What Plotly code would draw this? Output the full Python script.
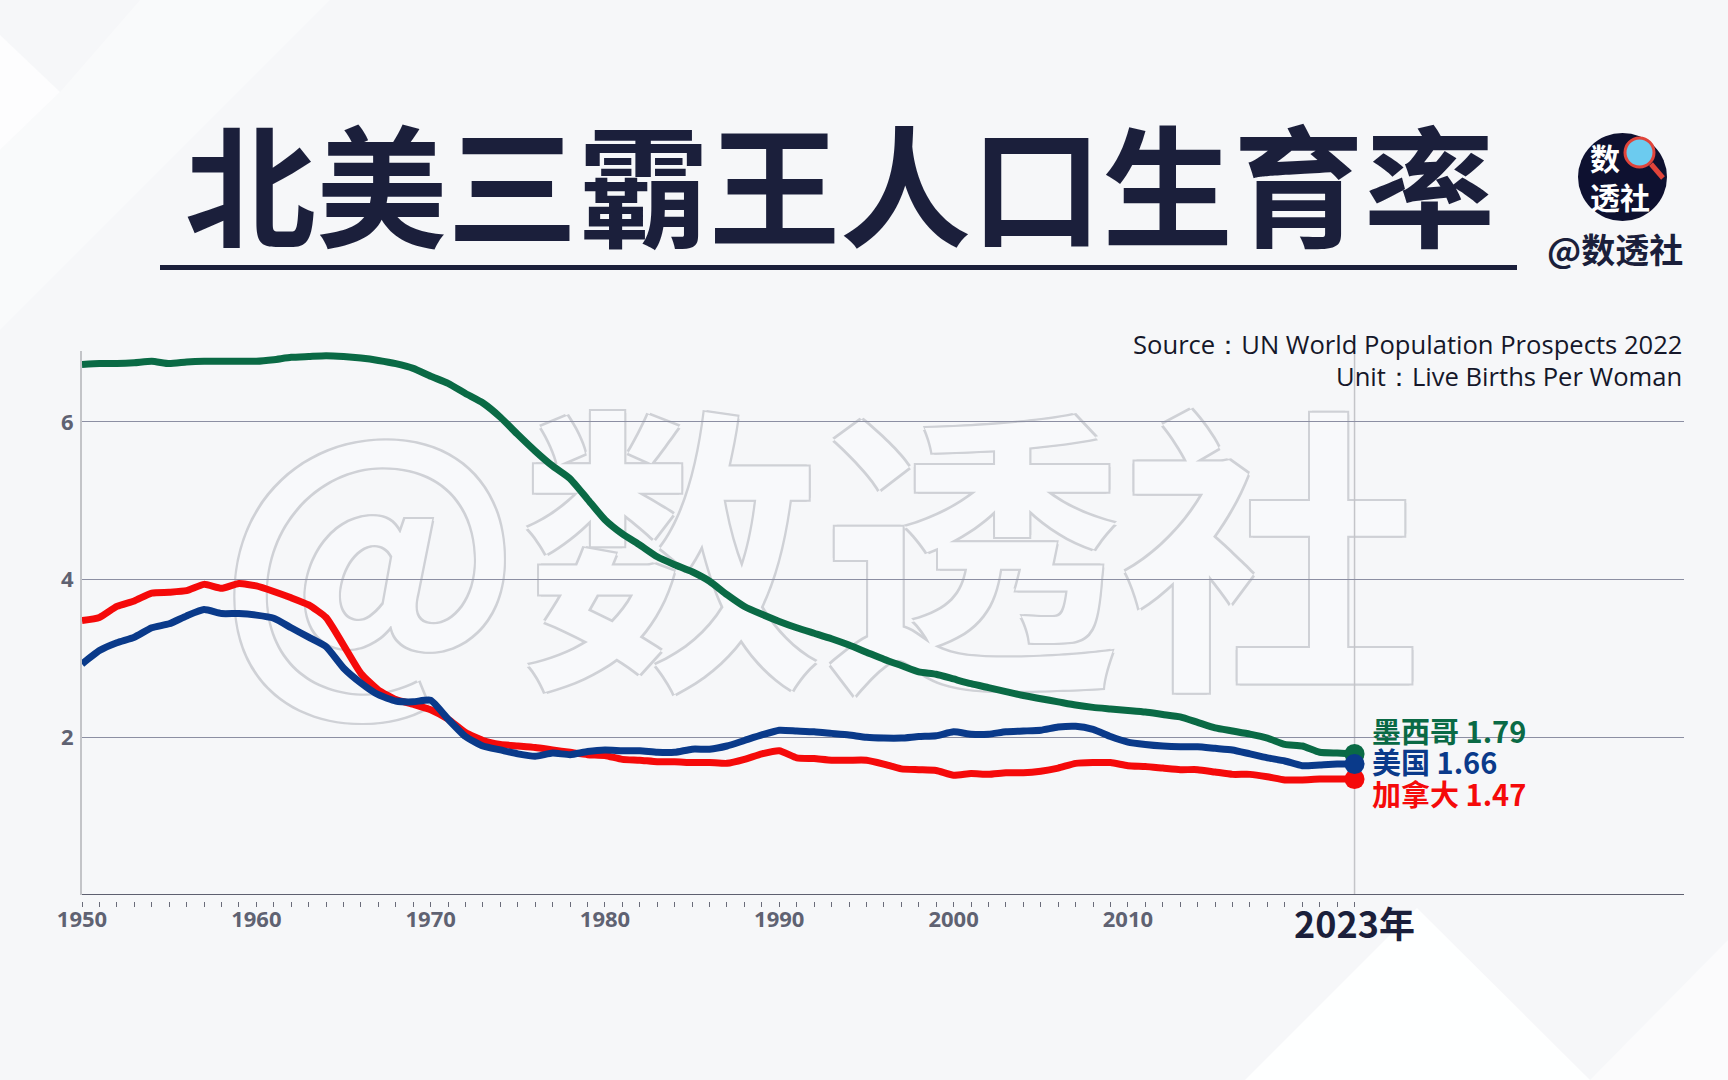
import plotly.graph_objects as go

years = list(range(1950, 2024))

mexico = [6.73, 6.74, 6.74, 6.75, 6.77, 6.74, 6.76, 6.77, 6.77, 6.77,
          6.77, 6.79, 6.82, 6.83, 6.84, 6.83, 6.81, 6.78, 6.74, 6.68,
          6.58, 6.49, 6.36, 6.24, 6.06, 5.84, 5.63, 5.44, 5.28, 5.02,
          4.76, 4.58, 4.44, 4.29, 4.19, 4.10, 3.98, 3.81, 3.66, 3.56,
          3.47, 3.39, 3.32, 3.25, 3.17, 3.08, 2.99, 2.91, 2.83, 2.80,
          2.74, 2.68, 2.63, 2.58, 2.53, 2.49, 2.45, 2.41, 2.38, 2.36,
          2.34, 2.32, 2.29, 2.26, 2.19, 2.12, 2.08, 2.04, 1.99, 1.91,
          1.89, 1.81, 1.80, 1.79]

usa = [2.93, 3.10, 3.20, 3.27, 3.39, 3.44, 3.54, 3.62, 3.57, 3.57,
       3.55, 3.51, 3.39, 3.27, 3.15, 2.88, 2.69, 2.54, 2.46, 2.45,
       2.47, 2.23, 2.01, 1.89, 1.84, 1.79, 1.76, 1.80, 1.78, 1.82,
       1.84, 1.83, 1.83, 1.81, 1.81, 1.85, 1.85, 1.89, 1.96, 2.03,
       2.09, 2.08, 2.07, 2.05, 2.03, 2.00, 1.99, 1.99, 2.01, 2.02,
       2.07, 2.04, 2.04, 2.07, 2.08, 2.09, 2.13, 2.14, 2.10, 2.01,
       1.94, 1.91, 1.89, 1.88, 1.88, 1.86, 1.84, 1.79, 1.74, 1.70,
       1.64, 1.65, 1.66, 1.66]

canada = [3.48, 3.52, 3.66, 3.73, 3.83, 3.84, 3.86, 3.94, 3.89, 3.95,
          3.92, 3.85, 3.77, 3.68, 3.52, 3.17, 2.81, 2.60, 2.48, 2.42,
          2.35, 2.23, 2.06, 1.96, 1.91, 1.89, 1.87, 1.84, 1.81, 1.78,
          1.77, 1.72, 1.71, 1.69, 1.69, 1.68, 1.68, 1.67, 1.72, 1.79,
          1.83, 1.74, 1.73, 1.71, 1.71, 1.71, 1.66, 1.60, 1.59, 1.58,
          1.52, 1.54, 1.53, 1.55, 1.55, 1.57, 1.61, 1.67, 1.68, 1.68,
          1.64, 1.63, 1.61, 1.59, 1.59, 1.56, 1.53, 1.53, 1.50, 1.46,
          1.46, 1.47, 1.47, 1.47]

series_names = ["墨西哥", "美国", "加拿大"]
series_values = [mexico, usa, canada]
series_colors = ["#0a6a45", "#0a3a8a", "#f50a0a"]
label_shift = [24, 3, -14]

y_tickvals = [2, 4, 6]
x_label_years = [1950, 1960, 1970, 1980, 1990, 2000, 2010]
title_text = "北美三霸王人口生育率"
source_text = "Source：UN World Population Prospects 2022"
unit_text = "Unit：Live Births Per Woman"
handle_text = "@数透社"
logo_text = "数<br>透社"
last_year_label = "2023年"

W, H = 1728, 1080
L, R, T, B = 82, 1684, 351, 901
AX_BOTTOM = 895


def px(x):
    return (x - L) / (R - L)


def py(y):
    return (B - y) / (B - T)


CJK = "Noto Sans CJK SC"
NAVY = "#1b1f3b"

fig = go.Figure()

order = [0, 2, 1]
for i in order:
    fig.add_trace(go.Scatter(
        x=years, y=series_values[i], mode="lines",
        line=dict(color=series_colors[i], width=7, shape="spline", smoothing=0.5),
        hoverinfo="skip", showlegend=False))
for i in order:
    fig.add_trace(go.Scatter(
        x=[years[-1]], y=[series_values[i][-1]], mode="markers",
        marker=dict(color=series_colors[i], size=20),
        cliponaxis=False, hoverinfo="skip", showlegend=False))

tick_text = [str(y) if y in x_label_years else "" for y in years]

fig.update_layout(
    width=W, height=H,
    margin=dict(l=L, r=W - R, t=T, b=H - B, pad=0),
    paper_bgcolor="#f6f7f9",
    plot_bgcolor="rgba(0,0,0,0)",
    showlegend=False,
    xaxis=dict(
        range=[1950, 2041.9], anchor="free", position=0,
        showgrid=False, zeroline=False, showline=False,
        tickmode="array", tickvals=years, ticktext=tick_text,
        ticks="outside", ticklen=5, tickwidth=1, tickcolor="#6a6c7a",
        ticklabelstandoff=-6,
        tickfont=dict(family="Open Sans", size=22, color="#5f6272", weight="bold"),
    ),
    yaxis=dict(
        range=[0, 6.9], domain=[(B - AX_BOTTOM) / (B - T), 1],
        tickmode="array", tickvals=y_tickvals,
        showgrid=True, gridcolor="#8c8fa3", gridwidth=1,
        zeroline=False, showline=True, linecolor="#c3c4c8", linewidth=2,
        ticks="", ticklabelstandoff=2,
        tickfont=dict(family="Open Sans", size=22, color="#5f6272", weight="bold"),
    ),
)

outline = "#cfd1d6"
shapes = []
# background decorations
shapes.append(dict(type="path", xref="paper", yref="paper", layer="below",
                   path=f"M {px(0)},{py(35)} L {px(60)},{py(92)} L {px(0)},{py(150)} Z",
                   fillcolor="rgba(255,255,255,0.75)", line=dict(width=0)))
shapes.append(dict(type="path", xref="paper", yref="paper", layer="below",
                   path=f"M {px(140)},{py(0)} L {px(330)},{py(0)} L {px(0)},{py(330)} L {px(0)},{py(150)} L {px(60)},{py(92)} Z",
                   fillcolor="rgba(255,255,255,0.35)", line=dict(width=0)))
shapes.append(dict(type="path", xref="paper", yref="paper", layer="below",
                   path=f"M {px(1417)},{py(908)} L {px(1590)},{py(1080)} L {px(1245)},{py(1080)} Z",
                   fillcolor="rgba(255,255,255,0.9)", line=dict(width=0)))
shapes.append(dict(type="path", xref="paper", yref="paper", layer="below",
                   path=f"M {px(1590)},{py(1080)} L {px(1728)},{py(940)} L {px(1728)},{py(1080)} Z",
                   fillcolor="rgba(255,255,255,0.5)", line=dict(width=0)))
# watermark (outlined text beneath the lines)
shapes.append(dict(type="rect", xref="paper", yref="paper", layer="below",
                   x0=px(220), x1=px(1420), y0=py(728), y1=py(438),
                   fillcolor="rgba(0,0,0,0)", line=dict(width=0),
                   label=dict(text=handle_text, textposition="middle center",
                              font=dict(family=CJK, size=300, color="#f8f9fb", weight="bold",
                                        shadow=f"2px 2px 0 {outline}, -2px -2px 0 {outline}, 2px -2px 0 {outline}, -2px 2px 0 {outline}"))))
# title underline
shapes.append(dict(type="line", xref="paper", yref="paper",
                   x0=px(160), x1=px(1517), y0=py(267.5), y1=py(267.5),
                   line=dict(color=NAVY, width=5)))
# bottom axis line
shapes.append(dict(type="line", xref="paper", yref="y", x0=0, x1=1, y0=0, y1=0,
                   line=dict(color="#5e6070", width=2)))
# 2023 reference line
shapes.append(dict(type="line", xref="x", yref="paper", x0=years[-1], x1=years[-1],
                   y0=py(AX_BOTTOM), y1=1, layer="below",
                   line=dict(color="#c4c5c9", width=1.5)))
# logo
shapes.append(dict(type="circle", xref="paper", yref="paper",
                   x0=px(1578), x1=px(1667), y0=py(133), y1=py(221),
                   fillcolor="#0e1130", line=dict(width=0)))
shapes.append(dict(type="line", xref="paper", yref="paper",
                   x0=px(1651), x1=px(1663), y0=py(164), y1=py(178),
                   line=dict(color="#e0443a", width=5)))
shapes.append(dict(type="circle", xref="paper", yref="paper",
                   x0=px(1625), x1=px(1654), y0=py(138), y1=py(167),
                   fillcolor="#6ccbef", line=dict(color="#e0443a", width=3)))
fig.update_layout(shapes=shapes)

ann = []
ann.append(dict(text=title_text, xref="paper", yref="paper", x=px(840), y=py(180),
                xanchor="center", yanchor="middle", showarrow=False,
                font=dict(family=CJK, size=131, color=NAVY, weight="bold")))
ann.append(dict(text=source_text, xref="paper", yref="paper", x=1, y=py(345),
                xanchor="right", yanchor="middle", showarrow=False,
                font=dict(family="Open Sans", size=25.6, color="#15172a")))
ann.append(dict(text=unit_text, xref="paper", yref="paper", x=1, y=py(376),
                xanchor="right", yanchor="middle", showarrow=False,
                font=dict(family="Open Sans", size=25.6, color="#15172a")))
ann.append(dict(text=handle_text, xref="paper", yref="paper", x=px(1615), y=py(248),
                xanchor="center", yanchor="middle", showarrow=False,
                font=dict(family=CJK, size=34, color=NAVY, weight="bold")))
ann.append(dict(text=logo_text, xref="paper", yref="paper", x=px(1588), y=py(176),
                xanchor="left", yanchor="middle", align="left", showarrow=False,
                font=dict(family=CJK, size=30, color="white", weight="bold")))
ann.append(dict(text=last_year_label, xref="x", yref="paper", x=years[-1], y=py(922),
                xanchor="center", yanchor="middle", showarrow=False,
                font=dict(family=CJK, size=36, color=NAVY, weight="bold")))
for i in range(3):
    ann.append(dict(text=f"{series_names[i]} {series_values[i][-1]:.2f}",
                    xref="x", yref="y", x=years[-1], y=series_values[i][-1],
                    xanchor="left", yanchor="middle", xshift=15, yshift=label_shift[i],
                    showarrow=False,
                    font=dict(family=CJK, size=29, color=series_colors[i], weight="bold")))
fig.update_layout(annotations=ann)

fig.write_html("out.html")
